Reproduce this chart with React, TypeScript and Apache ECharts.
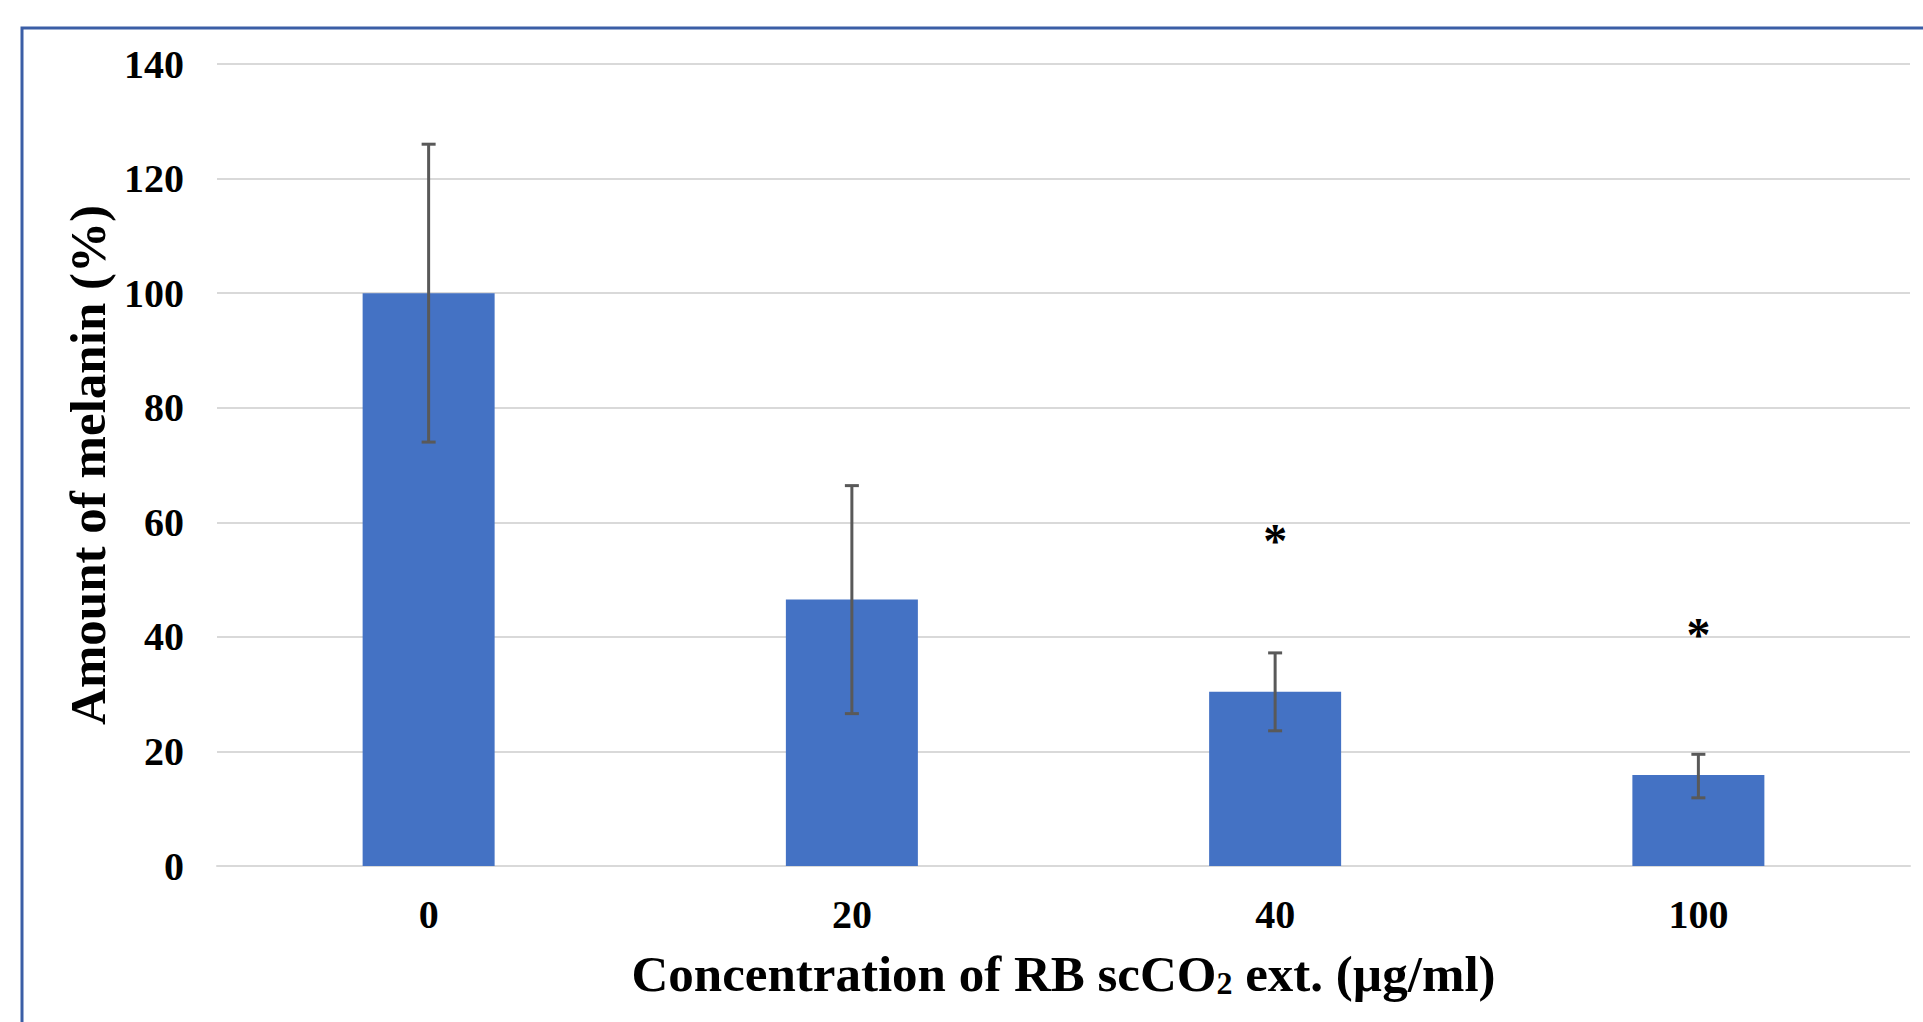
import React, { useEffect, useRef } from "react";
import * as echarts from "echarts";

const categories = ["0", "20", "40", "100"];
const melanin = [100, 46.5, 30.4, 15.9];
const errLow = [74, 26.6, 23.6, 11.9];
const errHigh = [126, 66.4, 37.2, 19.5];
const starCategories = ["40", "100"];
const starValues = [57.8, 41.5];
const yTicks = { min: 0, max: 140, interval: 20 };

const FONT = "'Liberation Serif', 'Times New Roman', serif";

export default function App() {
  const ref = useRef<HTMLDivElement>(null);
  useEffect(() => {
    if (!ref.current) return;
    const chart = echarts.init(ref.current, undefined, { renderer: "svg" });
    const errData = categories.map((c, i) => [i, errLow[i], errHigh[i]]);
    chart.setOption({
      animation: false,
      backgroundColor: "#ffffff",
      grid: { left: 217, right: 13, top: 64, bottom: 156 },
      graphic: [
        {
          type: "rect",
          shape: { x: 22, y: 28, width: 2000, height: 1200 },
          style: { fill: "none", stroke: "#3b5ea6", lineWidth: 3 },
          silent: true,
          z: 100,
        },
      ],
      xAxis: {
        type: "category",
        data: categories,
        axisLine: { show: true, lineStyle: { color: "#d9d9d9", width: 2 } },
        axisTick: { show: false },
        axisLabel: {
          margin: 28,
          fontFamily: FONT,
          fontWeight: "bold",
          fontSize: 40,
          color: "#000",
        },
        name: "Concentration of RB scCO{sub|2} ext. (µg/ml)",
        nameLocation: "middle",
        nameGap: 82,
        nameTextStyle: {
          fontFamily: FONT,
          fontWeight: "bold",
          fontSize: 51,
          color: "#000",
          rich: {
            sub: {
              fontFamily: FONT,
              fontWeight: "bold",
              fontSize: 32,
              color: "#000",
              verticalAlign: "bottom",
              padding: [15, 0, 0, 0],
            },
          },
        },
      },
      yAxis: {
        type: "value",
        min: yTicks.min,
        max: yTicks.max,
        interval: yTicks.interval,
        axisLine: { show: false },
        axisTick: { show: false },
        splitLine: { lineStyle: { color: "#d9d9d9", width: 2 } },
        axisLabel: {
          margin: 33,
          fontFamily: FONT,
          fontWeight: "bold",
          fontSize: 40,
          color: "#000",
        },
        name: "Amount of melanin (%)",
        nameLocation: "middle",
        nameGap: 102,
        nameRotate: 90,
        nameTextStyle: {
          fontFamily: FONT,
          fontWeight: "bold",
          fontSize: 51,
          color: "#000",
        },
      },
      series: [
        {
          type: "bar",
          data: melanin,
          barWidth: 132,
          itemStyle: { color: "#4472c4" },
          z: 2,
        },
        {
          type: "custom",
          data: errData,
          z: 5,
          renderItem: (params: any, api: any) => {
            const x = api.value(0);
            const lo = api.coord([x, api.value(1)]);
            const hi = api.coord([x, api.value(2)]);
            const cap = 7;
            const style = { stroke: "#595959", lineWidth: 3 };
            return {
              type: "group",
              children: [
                { type: "line", shape: { x1: lo[0], y1: lo[1], x2: hi[0], y2: hi[1] }, style },
                { type: "line", shape: { x1: hi[0] - cap, y1: hi[1], x2: hi[0] + cap, y2: hi[1] }, style },
                { type: "line", shape: { x1: lo[0] - cap, y1: lo[1], x2: lo[0] + cap, y2: lo[1] }, style },
              ],
            };
          },
        },
        {
          type: "scatter",
          data: starCategories.map((c, i) => [c, starValues[i]]),
          symbol: "circle",
          symbolSize: 2,
          itemStyle: { color: "rgba(0,0,0,0)" },
          z: 6,
          label: {
            show: true,
            position: "inside",
            formatter: "*",
            fontFamily: FONT,
            fontWeight: "bold",
            fontSize: 48,
            color: "#000000",
            opacity: 1,
            offset: [0, 6],
          },
        },
      ],
    });
    return () => chart.dispose();
  }, []);
  return (
    <div
      ref={ref}
      style={{ position: "fixed", left: 0, top: 0, width: 1923, height: 1022 }}
    />
  );
}
